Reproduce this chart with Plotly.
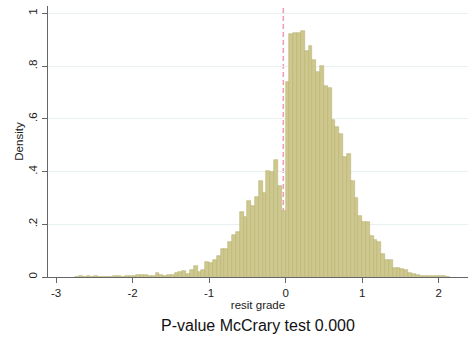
import numpy as np
import plotly.graph_objects as go

# Histogram data: density per bin of width 0.05, first bin starts at -2.75
bin_start = -2.75
bin_width = 0.05
density = [
    0.000, 0.003, 0.001, 0.003, 0.001, 0.003, 0.000, 0.001, 0.000, 0.001,   # -2.75 .. -2.30
    0.004, 0.004, 0.001, 0.002, 0.003, 0.003, 0.008, 0.007, 0.007, 0.004,   # -2.25 .. -1.80
    0.005, 0.016, 0.007, 0.005, 0.008, 0.008, 0.016, 0.019, 0.021, 0.012,   # -1.75 .. -1.30
    0.027, 0.043, 0.018, 0.028, 0.058, 0.053, 0.063, 0.078, 0.108, 0.108,   # -1.25 .. -0.80
    0.134, 0.159, 0.172, 0.248, 0.227, 0.288, 0.270, 0.303, 0.364, 0.318,   # -0.75 .. -0.30
    0.404, 0.399, 0.445, 0.346, 0.252,                                      # -0.25 .. -0.05
    0.740, 0.920, 0.925, 0.926, 0.935, 0.859, 0.877, 0.824, 0.778, 0.801,   # 0.00 .. 0.45
    0.725, 0.716, 0.597, 0.570, 0.544, 0.455, 0.467, 0.364, 0.298, 0.232,   # 0.50 .. 0.95
    0.207, 0.207, 0.157, 0.141, 0.134, 0.088, 0.063, 0.063, 0.035, 0.033,   # 1.00 .. 1.45
    0.030, 0.025, 0.017, 0.010, 0.008, 0.003, 0.002, 0.002, 0.002, 0.003,   # 1.50 .. 1.95
    0.003, 0.002, 0.001,                                                    # 2.00 .. 2.10
]
cutoff = -0.03
x_ticks = [-3, -2, -1, 0, 1, 2]
x_tick_labels = ["-3", "-2", "-1", "0", "1", "2"]
y_ticks = [0, 0.2, 0.4, 0.6, 0.8, 1.0]
y_tick_labels = ["0", ".2", ".4", ".6", ".8", "1"]
x_title = "resit grade"
y_title = "Density"
note = "P-value McCrary test 0.000"

centers = bin_start + bin_width * (np.arange(len(density)) + 0.5)

font = "Liberation Sans, Arial, sans-serif"
fig = go.Figure()
fig.add_trace(go.Bar(
    x=centers, y=density, width=bin_width,
    marker=dict(color="#cfc88e", line=dict(color="#b9b275", width=0.6)),
    hoverinfo="skip",
))
fig.add_shape(type="line", x0=cutoff, x1=cutoff, y0=0, y1=1, xref="x", yref="paper",
              layer="below", line=dict(color="#ef9bb6", width=1.5, dash="5px,3px"))

fig.update_layout(
    width=471, height=339,
    margin=dict(l=48, r=3, t=6, b=62, autoexpand=False),
    paper_bgcolor="white", plot_bgcolor="white",
    showlegend=False, bargap=0,
    font=dict(family=font, size=11, color="#222222"),
)
fig.update_xaxes(
    range=[-3.105, 2.383], tickvals=x_ticks, ticktext=x_tick_labels,
    showline=True, linecolor="#666666", linewidth=1.2,
    ticks="outside", ticklen=5, tickcolor="#666666",
    showgrid=False, zeroline=False,
    title=dict(text=x_title, font=dict(size=11.5), standoff=1),
    tickfont=dict(size=11.5),
)
fig.update_yaxes(
    range=[0, 1.028], tickvals=y_ticks, ticktext=y_tick_labels, tickangle=-90,
    showline=True, linecolor="#666666", linewidth=1.2,
    ticks="outside", ticklen=5, tickcolor="#666666",
    showgrid=True, gridcolor="#e8f0f1", gridwidth=1, zeroline=False,
    title=dict(text=y_title, font=dict(size=11.5), standoff=1),
    tickfont=dict(size=11.5),
)
fig.add_annotation(text=note, xref="paper", yref="paper", x=0.5, y=-0.142,
                   xanchor="center", yanchor="top", showarrow=False,
                   font=dict(size=16, color="#111111"))
fig.write_html("out.html", config={"displayModeBar": False},
               post_script="document.body.style.margin='0';document.body.style.overflow='hidden';")
